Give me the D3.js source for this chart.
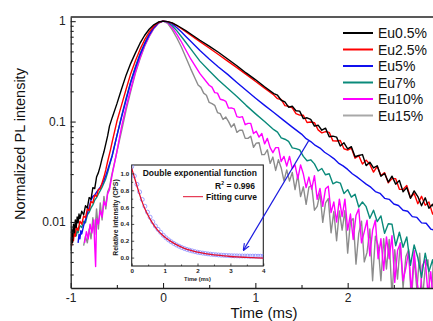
<!DOCTYPE html>
<html><head><meta charset="utf-8">
<script src="https://cdn.jsdelivr.net/npm/d3@7"></script>
<style>
body{margin:0;background:#fff}
svg{display:block}
text{font-family:"Liberation Sans",Arial,sans-serif}
</style>
</head><body>
<svg id="c" width="433" height="321"></svg>
<script>
// ---------- data ----------
const seriesNames = ["Eu0.5%","Eu2.5%","Eu5%","Eu7%","Eu10%","Eu15%"];
const seriesColors = ["#000000","#ff0000","#1010ee","#0a8a7a","#ff00ff","#8c8c8c"];
const legendColors = ["#000000","#ff0000","#1010ee","#0a8a7a","#ff00ff","#a8a8a8"];

const eu05 = [
[-1.00,0.0052],[-0.99,0.0085],[-0.98,0.0062],[-0.97,0.0095],[-0.96,0.0078],[-0.95,0.0105],[-0.94,0.0088],[-0.93,0.0112],[-0.92,0.0098],[-0.91,0.012],[-0.90,0.0108],[-0.88,0.0128],[-0.86,0.0118],[-0.84,0.0145],[-0.82,0.0138],[-0.80,0.0175],[-0.78,0.0168],[-0.76,0.022],[-0.74,0.0215],[-0.72,0.028],[-0.70,0.031],[-0.68,0.036],[-0.66,0.043],[-0.64,0.05],[-0.62,0.06],[-0.60,0.072],[-0.58,0.09],[-0.55,0.11],[-0.50,0.15],[-0.45,0.21],[-0.40,0.29],[-0.35,0.38],[-0.30,0.48],[-0.25,0.60],[-0.20,0.72],[-0.15,0.83],[-0.10,0.92],[-0.05,0.98],[0,1],
[0.05,0.99],[0.10,0.96],[0.15,0.91],[0.20,0.855],[0.25,0.80],[0.30,0.745],[0.40,0.645],[0.50,0.565],[0.60,0.49],[0.70,0.42],[0.80,0.36],[0.90,0.305],[1.00,0.262],[1.10,0.222],[1.20,0.19],
[1.24,0.183],[1.28,0.163],[1.32,0.157],[1.36,0.139],[1.40,0.142],[1.44,0.128],[1.48,0.127],[1.52,0.107],[1.56,0.109],[1.60,0.105],[1.64,0.090],[1.68,0.092],[1.72,0.082],[1.76,0.086],[1.80,0.0705],[1.84,0.0717],[1.88,0.070],[1.92,0.057],[1.96,0.0614],[2.00,0.0534],[2.04,0.0562],[2.08,0.0446],[2.12,0.0459],[2.16,0.0469],[2.20,0.0364],[2.24,0.0394],[2.28,0.0345],[2.32,0.0363],[2.36,0.0285],[2.40,0.0304],[2.44,0.025],[2.48,0.0286],[2.52,0.0238],[2.56,0.0259],[2.60,0.020],[2.64,0.022],[2.68,0.0172],[2.72,0.0204],[2.76,0.0179],[2.80,0.0145],[2.84,0.0174],[2.88,0.0137],[2.92,0.015],[2.96,0.0117]
];

const eu25 = [
[-1.00,0.0068],[-0.99,0.0058],[-0.98,0.0075],[-0.97,0.0065],[-0.96,0.0082],[-0.95,0.0072],[-0.94,0.009],[-0.92,0.0082],[-0.90,0.0102],[-0.88,0.0095],[-0.86,0.0115],[-0.84,0.011],[-0.82,0.0135],[-0.80,0.013],[-0.78,0.016],[-0.76,0.0155],[-0.74,0.0185],[-0.72,0.018],[-0.70,0.021],[-0.68,0.0215],[-0.66,0.0245],[-0.64,0.028],[-0.62,0.033],[-0.60,0.04],[-0.57,0.052],[-0.55,0.063],[-0.50,0.10],[-0.45,0.145],[-0.40,0.21],[-0.35,0.30],[-0.30,0.40],[-0.25,0.52],[-0.20,0.65],[-0.15,0.78],[-0.10,0.89],[-0.05,0.97],[0,1],
[0.05,0.99],[0.10,0.955],[0.15,0.90],[0.20,0.84],[0.25,0.78],[0.30,0.725],[0.40,0.625],[0.50,0.54],[0.60,0.465],[0.70,0.40],[0.80,0.345],[0.90,0.295],[1.00,0.252],[1.10,0.215],[1.20,0.184],
[1.24,0.169],[1.28,0.166],[1.32,0.144],[1.36,0.142],[1.40,0.137],[1.44,0.120],[1.48,0.116],[1.52,0.1155],[1.56,0.098],[1.60,0.099],[1.64,0.0975],[1.68,0.0826],[1.72,0.0771],[1.76,0.0793],[1.80,0.0781],[1.84,0.0642],[1.88,0.064],[1.92,0.0648],[1.96,0.0536],[2.00,0.0519],[2.04,0.0545],[2.08,0.0432],[2.12,0.0458],[2.16,0.0378],[2.20,0.0413],[2.24,0.0375],[2.28,0.0314],[2.32,0.0358],[2.36,0.029],[2.40,0.031],[2.44,0.0245],[2.48,0.027],[2.52,0.027],[2.56,0.0212],[2.60,0.0211],[2.64,0.0231],[2.68,0.0175],[2.72,0.0192],[2.76,0.0152],[2.80,0.018],[2.84,0.0147],[2.88,0.0158],[2.92,0.012],[2.96,0.0138]
];

const eu5 = [
[-0.92,0.0062],[-0.91,0.0075],[-0.90,0.0068],[-0.89,0.0082],[-0.88,0.0076],[-0.86,0.0092],[-0.84,0.0105],[-0.82,0.0122],[-0.80,0.014],[-0.78,0.0165],[-0.76,0.018],[-0.74,0.0185],[-0.72,0.0198],[-0.70,0.021],[-0.68,0.0222],[-0.66,0.0238],[-0.64,0.026],[-0.62,0.029],[-0.60,0.033],[-0.55,0.046],[-0.50,0.072],[-0.45,0.11],[-0.40,0.165],[-0.35,0.245],[-0.30,0.34],[-0.25,0.46],[-0.20,0.59],[-0.15,0.73],[-0.10,0.86],[-0.05,0.96],[0,1],
[0.05,0.99],[0.10,0.94],[0.15,0.86],[0.20,0.78],[0.25,0.70],[0.30,0.63],[0.40,0.51],[0.50,0.42],[0.60,0.35],[0.70,0.295],[0.80,0.245],[0.90,0.205],[1.00,0.172],[1.10,0.145],[1.20,0.123],[1.30,0.104],[1.40,0.088],[1.50,0.075],
[1.55,0.0675],[1.60,0.0632],[1.65,0.0578],[1.70,0.0545],[1.75,0.0495],[1.80,0.0462],[1.85,0.0428],[1.90,0.0386],[1.95,0.0362],[2.00,0.0334],[2.05,0.0302],[2.10,0.0281],[2.15,0.0259],[2.20,0.0238],[2.25,0.0222],[2.30,0.0201],[2.35,0.0193],[2.40,0.0172],[2.45,0.0168],[2.50,0.0151],[2.55,0.0146],[2.60,0.0131],[2.65,0.0128],[2.70,0.0113],[2.75,0.0111],[2.80,0.0098],[2.85,0.0097],[2.90,0.0085],[2.95,0.0082]
];

const eu7 = [
[-0.94,0.0072],[-0.93,0.0085],[-0.92,0.0078],[-0.90,0.0092],[-0.88,0.0088],[-0.86,0.0102],[-0.84,0.0098],[-0.82,0.0118],[-0.80,0.0125],[-0.78,0.0138],[-0.76,0.0148],[-0.74,0.0165],[-0.72,0.0175],[-0.70,0.019],[-0.68,0.0205],[-0.66,0.0222],[-0.64,0.0245],[-0.62,0.027],[-0.60,0.031],[-0.55,0.046],[-0.50,0.072],[-0.45,0.112],[-0.40,0.17],[-0.35,0.25],[-0.30,0.35],[-0.25,0.47],[-0.20,0.60],[-0.15,0.74],[-0.10,0.87],[-0.05,0.965],[0,1],
[0.05,0.98],[0.10,0.90],[0.15,0.80],[0.20,0.70],[0.25,0.61],[0.30,0.53],[0.40,0.40],[0.50,0.32],[0.60,0.26],[0.70,0.215],[0.80,0.178],[0.90,0.145],[1.00,0.12],[1.10,0.10],[1.20,0.083],
[1.24,0.0785],[1.28,0.0689],[1.32,0.0667],[1.36,0.0634],[1.40,0.0547],[1.44,0.0538],[1.48,0.0522],[1.52,0.045],[1.56,0.0407],[1.60,0.0416],[1.64,0.0379],[1.68,0.0322],[1.72,0.0341],[1.76,0.0295],[1.80,0.0302],[1.84,0.024],[1.88,0.0251],[1.92,0.0244],[1.96,0.0192],[2.00,0.021],[2.04,0.0177],[2.08,0.0189],[2.12,0.0141],[2.16,0.0158],[2.20,0.0142],[2.24,0.0109],[2.28,0.0131],[2.32,0.0101],[2.36,0.0115],[2.40,0.0077],[2.44,0.0096],[2.48,0.0095],[2.52,0.0058],[2.56,0.0079],[2.60,0.0056],[2.64,0.0071],[2.68,0.0037],[2.72,0.0059],[2.76,0.0044],[2.80,0.0028],[2.84,0.0049],[2.88,0.0032],[2.92,0.0042],[2.96,0.0025]
];

const eu10 = [
[-0.85,0.0062],[-0.83,0.008],[-0.81,0.0068],[-0.79,0.0095],[-0.77,0.0078],[-0.75,0.0105],[-0.74,0.0058],[-0.73,0.0036],[-0.72,0.0108],[-0.70,0.0095],[-0.68,0.013],[-0.66,0.0112],[-0.64,0.016],[-0.62,0.0145],[-0.60,0.019],[-0.58,0.021],[-0.55,0.03],[-0.50,0.05],[-0.45,0.088],[-0.40,0.14],[-0.35,0.21],[-0.30,0.31],[-0.25,0.43],[-0.20,0.57],[-0.15,0.71],[-0.10,0.85],[-0.05,0.96],[0,1],
[0.05,0.97],[0.10,0.86],[0.15,0.74],[0.20,0.62],[0.25,0.51],[0.30,0.42],[0.40,0.30],[0.50,0.23],
[0.53,0.220],[0.56,0.194],[0.59,0.192],[0.62,0.167],[0.65,0.164],[0.68,0.159],[0.71,0.136],[0.74,0.137],[0.77,0.134],[0.80,0.112],[0.83,0.110],[0.86,0.112],[0.89,0.093],[0.92,0.096],[0.95,0.096],[0.98,0.076],[1.01,0.080],[1.04,0.070],[1.07,0.076],[1.10,0.060],[1.13,0.068],[1.16,0.055],[1.19,0.049],[1.22,0.055],[1.25,0.055],[1.28,0.040],[1.31,0.045],[1.34,0.036],[1.37,0.045],[1.40,0.034],[1.43,0.037],[1.46,0.027],[1.49,0.037],[1.52,0.030],[1.55,0.022],[1.58,0.028],[1.61,0.0212],[1.64,0.0289],[1.67,0.0168],[1.70,0.0216],[1.73,0.0143],[1.76,0.0214],[1.79,0.0227],[1.82,0.0124],[1.85,0.0158],[1.88,0.010],[1.91,0.0169],[1.94,0.0113],[1.97,0.0169],[2.00,0.0083],[2.03,0.012],[2.06,0.0067],[2.09,0.0116],[2.12,0.0135],[2.15,0.0062],[2.18,0.008],[2.21,0.0104],[2.24,0.0046],[2.27,0.0083],[2.30,0.0104],[2.33,0.0043],[2.36,0.0068],[2.39,0.0033],[2.42,0.0071],[2.45,0.0043],[2.48,0.0073],[2.51,0.0025],[2.54,0.0052],[2.57,0.0061],[2.60,0.0026],[2.63,0.0035],[2.66,0.0051],[2.69,0.002],[2.72,0.0052],[2.75,0.0026],[2.78,0.0017],[2.81,0.0037],[2.84,0.0042],[2.87,0.0019],[2.90,0.0032],[2.93,0.0015],[2.96,0.0034]
];

const eu15 = [
[-0.86,0.0058],[-0.84,0.0072],[-0.82,0.0062],[-0.80,0.0085],[-0.78,0.0068],[-0.76,0.011],[-0.74,0.0075],[-0.72,0.0135],[-0.70,0.0085],[-0.68,0.0155],[-0.66,0.0105],[-0.64,0.018],[-0.62,0.0135],[-0.60,0.02],[-0.58,0.022],[-0.56,0.028],[-0.54,0.034],[-0.52,0.041],[-0.50,0.05],[-0.45,0.08],[-0.40,0.13],[-0.35,0.20],[-0.30,0.30],[-0.25,0.42],[-0.20,0.56],[-0.15,0.70],[-0.10,0.84],[-0.05,0.95],[0,1],
[0.05,0.95],[0.10,0.82],[0.15,0.68],[0.20,0.55],[0.25,0.43],[0.30,0.335],[0.35,0.265],
[0.38,0.231],[0.41,0.219],[0.44,0.192],[0.47,0.183],[0.50,0.155],[0.53,0.151],[0.56,0.145],[0.59,0.123],[0.62,0.120],[0.65,0.105],[0.68,0.111],[0.71,0.100],[0.74,0.088],[0.77,0.095],[0.80,0.078],[0.83,0.082],[0.86,0.082],[0.89,0.068],[0.92,0.068],[0.95,0.0715],[0.98,0.0555],[1.01,0.061],[1.04,0.0616],[1.07,0.0468],[1.10,0.047],[1.13,0.0524],[1.16,0.0383],[1.19,0.0443],[1.22,0.0326],[1.25,0.0418],[1.28,0.0345],[1.31,0.0257],[1.34,0.033],[1.37,0.0255],[1.40,0.0312],[1.43,0.021],[1.46,0.0294],[1.49,0.0179],[1.52,0.0224],[1.55,0.015],[1.58,0.0222],[1.61,0.023],[1.64,0.0131],[1.67,0.0143],[1.70,0.0192],[1.73,0.0099],[1.76,0.0155],[1.79,0.0171],[1.82,0.0078],[1.85,0.0127],[1.88,0.0065],[1.91,0.0129],[1.94,0.0083],[1.97,0.013],[2.00,0.0049],[2.03,0.0102],[2.06,0.0108],[2.09,0.0038],[2.12,0.0077],[2.15,0.0102],[2.18,0.004],[2.21,0.005],[2.24,0.0085],[2.27,0.0026],[2.30,0.0072],[2.33,0.0058],[2.36,0.0026],[2.39,0.0068],[2.42,0.0034],[2.45,0.0067],[2.48,0.0018],[2.51,0.0053],[2.54,0.0027],[2.57,0.0062],[2.60,0.0022],[2.63,0.0045],[2.66,0.0053],[2.69,0.0016],[2.72,0.0044],[2.75,0.0021],[2.78,0.0049],[2.81,0.0017],[2.84,0.0035],[2.87,0.0042],[2.90,0.0014],[2.93,0.0042],[2.96,0.0017]
];

const seriesData = [eu05, eu25, eu5, eu7, eu10, eu15];

// axis ticks
const xTicks = [-1, 0, 1, 2];
const xTickLabels = ["-1", "0", "1", "2"];
const xMinorTicks = [-0.5, 0.5, 1.5, 2.5];
const yTicks = [1, 0.1, 0.01];
const yTickLabels = ["1", "0.1", "0.01"];
const yMinorTicks = [0.003,0.004,0.005,0.006,0.007,0.008,0.009,0.02,0.03,0.04,0.05,0.06,0.07,0.08,0.09,0.2,0.3,0.4,0.5,0.6,0.7,0.8,0.9];

// inset data (double exponential fit)
const insetMeasured = [
[0,1.08],[0.08,0.97],[0.16,0.87],[0.24,0.78],[0.32,0.69],[0.40,0.61],[0.48,0.54],[0.56,0.48],[0.64,0.425],[0.72,0.375],[0.80,0.335],[0.88,0.30],[0.96,0.265],[1.04,0.235],[1.12,0.21],[1.20,0.188],[1.28,0.168],[1.36,0.15],[1.44,0.135],[1.52,0.12],[1.60,0.108],[1.68,0.097],[1.76,0.088],[1.84,0.079],[1.92,0.071],[2.00,0.064],[2.08,0.058],[2.16,0.053],[2.24,0.048],[2.32,0.044],[2.40,0.04],[2.48,0.037],[2.56,0.034],[2.64,0.031],[2.72,0.029],[2.80,0.027],[2.88,0.025],[2.96,0.024],[3.04,0.022],[3.12,0.021],[3.20,0.02],[3.28,0.019],[3.36,0.019],[3.44,0.018],[3.52,0.018],[3.60,0.017],[3.68,0.017],[3.76,0.017],[3.84,0.016],[3.92,0.016],[4.00,0.016]
];
const insetFit = [
[0,1.06],[0.1,0.93],[0.2,0.80],[0.3,0.68],[0.4,0.58],[0.5,0.50],[0.6,0.43],[0.7,0.37],[0.8,0.32],[0.9,0.28],[1.0,0.245],[1.2,0.19],[1.4,0.145],[1.6,0.11],[1.8,0.085],[2.0,0.065],[2.2,0.05],[2.4,0.038],[2.6,0.028],[2.8,0.02],[3.0,0.013],[3.2,0.008],[3.4,0.004],[3.6,0.0],[3.8,-0.004],[4.0,-0.007]
];
const insetXTicks = [0,1,2,3,4];
const insetXMinor = [0.5,1.5,2.5,3.5];
const insetYTicks = [0,0.2,0.4,0.6,0.8,1.0];
const insetYMinor = [0.1,0.3,0.5,0.7,0.9];
const insetTitle = "Double exponential function";
const insetR2 = "0.996";
const insetLegend = "Fitting curve";
// arrow: from a point on the Eu5% curve (main axes) to a point in the inset (inset axes)
const arrowFrom = [1.576, 0.064];
const arrowTo = [3.4, 0.09];

// ---------- drawing ----------
const svg = d3.select("#c");
const FONT = '"Liberation Sans", Arial, sans-serif';
svg.append("rect").attr("width",433).attr("height",321).attr("fill","#fff");

const x = d3.scaleLinear().domain([-1, 3]).range([70.7, 440]);
const y = d3.scaleLog().domain([0.0022, 1.1]).range([288, 17]);

const defs = svg.append("defs");
defs.append("clipPath").attr("id","plotclip").append("rect")
  .attr("x", x(-1)).attr("y", y(1.1)).attr("width", x(3)-x(-1)).attr("height", y(0.0022)-y(1.1));
defs.append("marker").attr("id","arrowhead").attr("viewBox","0 0 10 10")
  .attr("refX",9).attr("refY",5).attr("markerWidth",7).attr("markerHeight",7)
  .attr("orient","auto-start-reverse").attr("markerUnits","userSpaceOnUse")
  .append("path").attr("d","M0,1 L10,5 L0,9").attr("fill","none").attr("stroke","#1a1ae0").attr("stroke-width",1.6);

const line = d3.line().x(d => x(d[0])).y(d => y(d[1])).curve(d3.curveLinear);
const plot = svg.append("g").attr("clip-path","url(#plotclip)");
const drawOrder = [5,4,3,2,1,0];
drawOrder.forEach(i => {
  plot.append("path").datum(seriesData[i])
    .attr("d", line).attr("fill","none")
    .attr("stroke", seriesColors[i]).attr("stroke-width", 1.4)
    .attr("stroke-linejoin","round");
});

// axes
function styleAxis(g, size){
  g.attr("font-family", FONT).attr("font-size", size);
  g.selectAll(".domain").attr("stroke","#222").attr("stroke-width",1.3);
  g.selectAll(".tick line").attr("stroke","#222").attr("stroke-width",1.1);
  g.selectAll(".tick text").attr("fill","#222");
}
const xAxisG = svg.append("g").attr("transform",`translate(0,${y(0.0022)})`)
  .call(d3.axisBottom(x).tickValues(xTicks).tickFormat((d,i)=>xTickLabels[i]).tickSizeInner(-5).tickSizeOuter(0).tickPadding(5));
styleAxis(xAxisG, 12);
const xMinorG = svg.append("g").attr("transform",`translate(0,${y(0.0022)})`)
  .call(d3.axisBottom(x).tickValues(xMinorTicks).tickFormat("").tickSizeInner(-3).tickSizeOuter(0));
styleAxis(xMinorG, 12); xMinorG.select(".domain").remove();

const yAxisG = svg.append("g").attr("transform",`translate(${x(-1)},0)`)
  .call(d3.axisLeft(y).tickValues(yTicks).tickFormat((d,i)=>yTickLabels[i]).tickSizeInner(-5).tickSizeOuter(0).tickPadding(5));
styleAxis(yAxisG, 12);
const yMinorG = svg.append("g").attr("transform",`translate(${x(-1)},0)`)
  .call(d3.axisLeft(y).tickValues(yMinorTicks).tickFormat("").tickSizeInner(-3).tickSizeOuter(0));
styleAxis(yMinorG, 12); yMinorG.select(".domain").remove();

// top frame
svg.append("line").attr("x1",x(-1)).attr("x2",x(3)).attr("y1",y(1.1)).attr("y2",y(1.1))
  .attr("stroke","#222").attr("stroke-width",1.3);

// axis titles
svg.append("text").attr("x", 264).attr("y", 317.6).attr("text-anchor","middle")
  .attr("font-size",15).attr("fill","#111").text("Time (ms)");
svg.append("text").attr("transform","translate(25,144) rotate(-90)").attr("text-anchor","middle")
  .attr("font-size",14.5).attr("fill","#111").text("Normalized PL intensity");

// legend
const leg = svg.append("g").attr("font-size",14);
seriesNames.forEach((n,i) => {
  const yy = 33 + i*16.5;
  leg.append("line").attr("x1",343).attr("x2",373).attr("y1",yy).attr("y2",yy)
    .attr("stroke",legendColors[i]).attr("stroke-width",2);
  leg.append("text").attr("x",378).attr("y",yy).attr("dy","0.36em").attr("fill","#111").text(n);
});

// ---------- inset ----------
const xi = d3.scaleLinear().domain([0,4]).range([131.7,263.3]);
const yi = d3.scaleLinear().domain([-0.1,1.1]).range([266,165]);
const inset = svg.append("g");
inset.append("rect").attr("x",xi(0)).attr("y",yi(1.1)).attr("width",xi(4)-xi(0)).attr("height",yi(-0.1)-yi(1.1))
  .attr("fill","#fff").attr("stroke","#222").attr("stroke-width",1.1);
defs.append("clipPath").attr("id","insetclip").append("rect")
  .attr("x",xi(0)).attr("y",yi(1.1)).attr("width",xi(4)-xi(0)).attr("height",yi(-0.1)-yi(1.1));
const ip = inset.append("g").attr("clip-path","url(#insetclip)");
ip.selectAll("circle").data(insetMeasured).join("circle")
  .attr("cx", d=>xi(d[0])).attr("cy", d=>yi(d[1])).attr("r",2)
  .attr("fill","none").attr("stroke","#8a8cff").attr("stroke-width",0.8);
ip.append("path").datum(insetFit)
  .attr("d", d3.line().x(d=>xi(d[0])).y(d=>yi(d[1])).curve(d3.curveMonotoneX))
  .attr("fill","none").attr("stroke","#e01030").attr("stroke-width",1.3);

function styleInsetAxis(g){
  g.attr("font-family", FONT).attr("font-size", 6.2).attr("font-weight","bold");
  g.selectAll(".domain").remove();
  g.selectAll(".tick line").attr("stroke","#222").attr("stroke-width",0.8);
  g.selectAll(".tick text").attr("fill","#222");
}
const ixa = inset.append("g").attr("transform",`translate(0,${yi(-0.1)})`)
  .call(d3.axisBottom(xi).tickValues(insetXTicks).tickFormat(d3.format("d")).tickSizeInner(-2.5).tickSizeOuter(0).tickPadding(2.5));
styleInsetAxis(ixa);
const ixm = inset.append("g").attr("transform",`translate(0,${yi(-0.1)})`)
  .call(d3.axisBottom(xi).tickValues(insetXMinor).tickFormat("").tickSizeInner(-1.5).tickSizeOuter(0));
styleInsetAxis(ixm);
const iya = inset.append("g").attr("transform",`translate(${xi(0)},0)`)
  .call(d3.axisLeft(yi).tickValues(insetYTicks).tickFormat(d3.format(".1f")).tickSizeInner(-2.5).tickSizeOuter(0).tickPadding(2.5));
styleInsetAxis(iya);
const iym = inset.append("g").attr("transform",`translate(${xi(0)},0)`)
  .call(d3.axisLeft(yi).tickValues(insetYMinor).tickFormat("").tickSizeInner(-1.5).tickSizeOuter(0));
styleInsetAxis(iym);

inset.append("text").attr("x",(xi(0)+xi(4))/2).attr("y",280.5).attr("text-anchor","middle")
  .attr("font-size",5.7).attr("font-weight","bold").attr("fill","#222").text("Time (ms)");
inset.append("text").attr("transform","translate(117.5,217.5) rotate(-90)").attr("text-anchor","middle")
  .attr("font-size",6.8).attr("font-weight","bold").attr("fill","#222").text("Relative intensity (CPS)");

inset.append("text").attr("x",257).attr("y",176.3).attr("text-anchor","end")
  .attr("font-size",8.5).attr("font-weight","bold").attr("fill","#111").text(insetTitle);
const r2 = inset.append("text").attr("x",255).attr("y",188.5).attr("text-anchor","end")
  .attr("font-size",8.5).attr("font-weight","bold").attr("fill","#111");
r2.append("tspan").text("R");
r2.append("tspan").attr("font-size",5).attr("dy",-3.5).text("2");
r2.append("tspan").attr("dy",3.5).text(" = " + insetR2);
inset.append("line").attr("x1",183).attr("x2",203).attr("y1",196.7).attr("y2",196.7)
  .attr("stroke","#e01030").attr("stroke-width",1);
inset.append("text").attr("x",206).attr("y",199.6)
  .attr("font-size",8.5).attr("font-weight","bold").attr("fill","#111").text(insetLegend);

// arrow
svg.append("line")
  .attr("x1", x(arrowFrom[0])).attr("y1", y(arrowFrom[1]))
  .attr("x2", xi(arrowTo[0])).attr("y2", yi(arrowTo[1]))
  .attr("stroke","#1a1ae0").attr("stroke-width",1.3).attr("marker-end","url(#arrowhead)");
</script>
</body></html>
